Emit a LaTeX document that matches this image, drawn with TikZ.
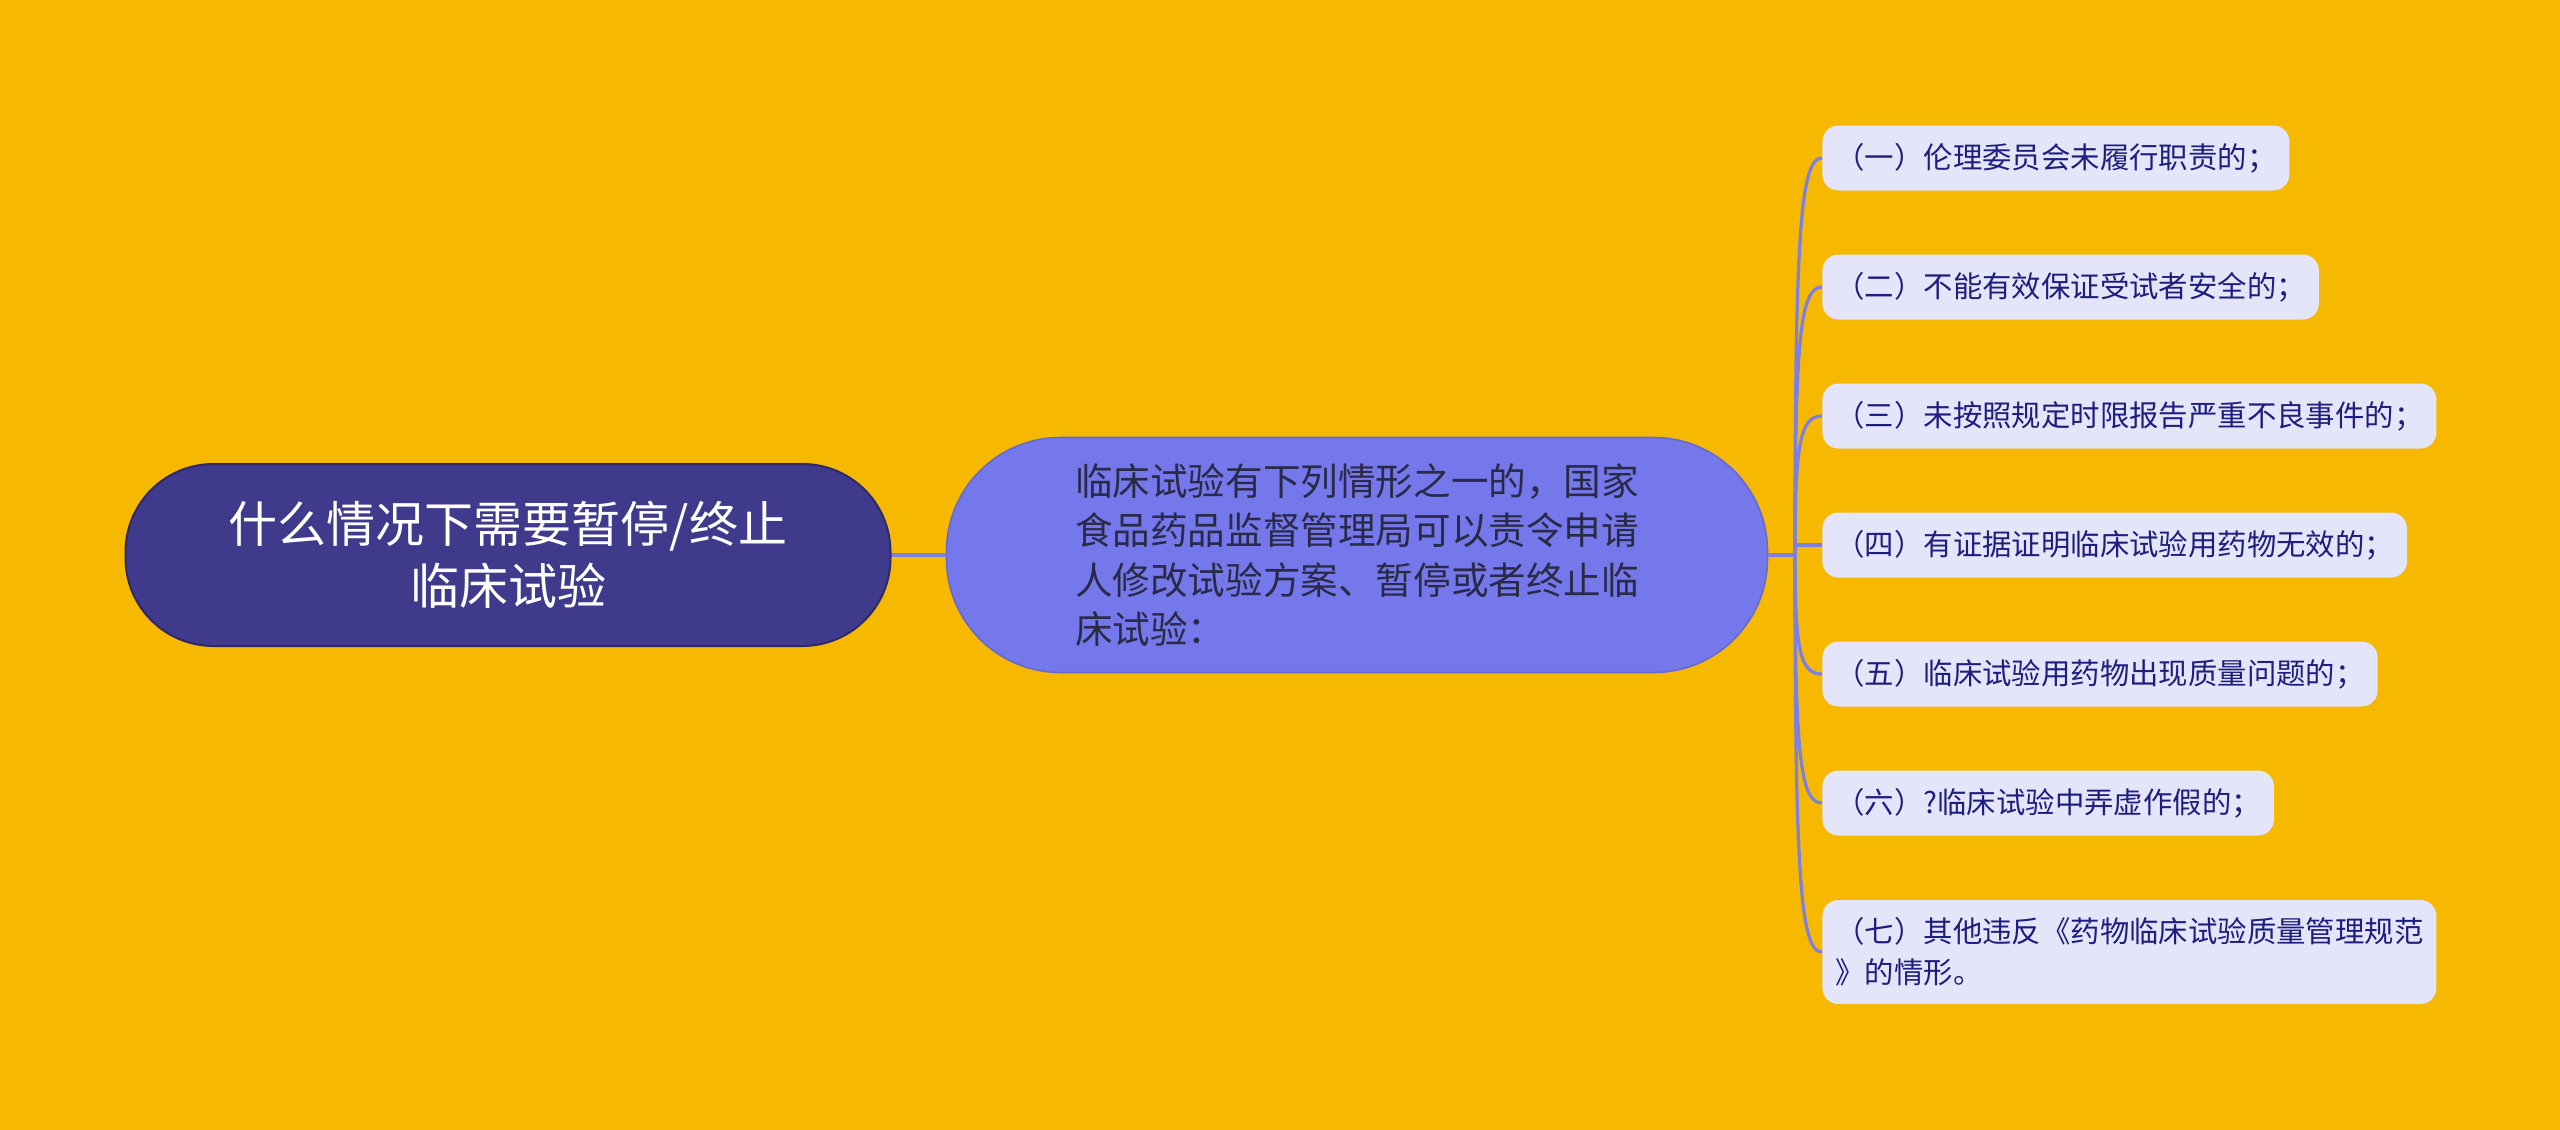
\documentclass[tikz,border=0pt]{standalone}
\usepackage{fontspec}
\usetikzlibrary{calc}
\newfontfamily\cjk{Noto Sans CJK SC}
\definecolor{bgc}{HTML}{F6B800}
\definecolor{rootc}{HTML}{3F3A8C}
\definecolor{rootb}{HTML}{2E2A6A}
\definecolor{mainc}{HTML}{7478EA}
\definecolor{mainb}{HTML}{666AD0}
\definecolor{maint}{HTML}{2A2A48}
\definecolor{leafc}{HTML}{E4E5F8}
\definecolor{leaft}{HTML}{1E1E80}
\definecolor{linec}{HTML}{7B80E2}
\begin{document}
\begin{tikzpicture}[x=0.5pt,y=-0.5pt]
\useasboundingbox[fill=bgc] (0,0) rectangle (2560,1130);
\tikzset{
 rootbox/.style={draw=rootb, line width=1pt, fill=rootc, rounded corners=44pt, minimum width=382.5pt, minimum height=91pt, text=white, font=\cjk\fontsize{24.5}{31}\selectfont, align=center},
 mainbox/.style={draw=mainb, line width=0.8pt, fill=mainc, rounded corners=57pt, minimum width=410.5pt, minimum height=117.5pt, text=maint, font=\cjk\fontsize{18.8}{24.75}\selectfont, align=left},
 leafbox/.style={fill=leafc, rounded corners=8pt, anchor=west, inner xsep=6.5pt, inner ysep=7pt, minimum height=32.5pt, text=leaft, font=\cjk\fontsize{14.7}{20.5}\selectfont, align=left},
 link/.style={draw=linec, line width=1.6pt},
}
\node[rootbox] (root) at (508,555) {什么情况下需要暂停/终止\\临床试验};
\node[mainbox] (main) at (1357,555) {临床试验有下列情形之一的，国家\\食品药品监督管理局可以责令申请\\人修改试验方案、暂停或者终止临\\床试验：};
\node[leafbox] (l1) at (1822,158) {（一）伦理委员会未履行职责的；};
\node[leafbox] (l2) at (1822,287) {（二）不能有效保证受试者安全的；};
\node[leafbox] (l3) at (1822,416) {（三）未按照规定时限报告严重不良事件的；};
\node[leafbox] (l4) at (1822,545) {（四）有证据证明临床试验用药物无效的；};
\node[leafbox] (l5) at (1822,674) {（五）临床试验用药物出现质量问题的；};
\node[leafbox] (l6) at (1822,803) {（六）?临床试验中弄虚作假的；};
\node[leafbox, minimum height=52pt] (l7) at (1822,952) {（七）其他违反《药物临床试验质量管理规范\\》的情形。};
\coordinate (hub) at (1795,555);
\draw[link, line width=2pt] (root.east) -- (main.west);
\draw[link] (main.east) -- (hub);
\foreach \n in {l1,l2,l3,l5,l6,l7}
  \draw[link] (hub) .. controls ($(hub)!0.8!(hub |- \n.west)$) and +(-22,0) .. (\n.west);
\draw[link] (hub |- l4.west) -- (l4.west);
\end{tikzpicture}
\end{document}
